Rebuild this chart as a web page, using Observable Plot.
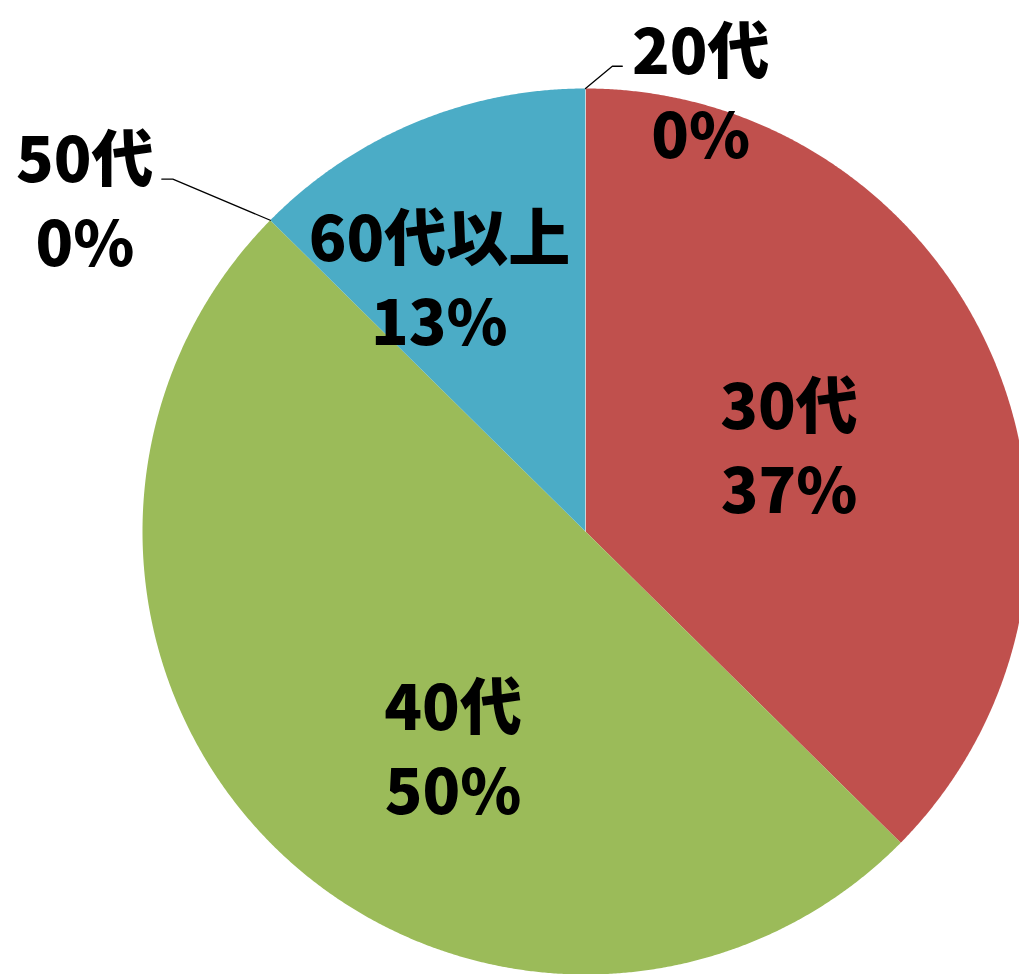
<!DOCTYPE html>
<html>
<head>
<meta charset="utf-8">
<script src="https://cdn.jsdelivr.net/npm/d3@7"></script>
<script src="https://cdn.jsdelivr.net/npm/@observablehq/plot@0.6"></script>
<style>
html, body { margin: 0; padding: 0; background: #fff; overflow: hidden; }
#chart svg { display: block; }
</style>
</head>
<body>
<div id="chart"></div>
<script>
// ---- data ----
const categories = ["20代", "30代", "40代", "50代", "60代以上"];
const shares = [0, 37.4, 50.0, 0, 12.6];          // percent
const colors = ["#4F81BD", "#C0504D", "#9BBB59", "#8064A2", "#4BACC6"];

// ---- layout (label placement, relative to slice angle; radius units) ----
const labelAngleNudge = [14.6, -0.6, -12.9, -10.9, -7.1];
const labelRadius     = [1.032, 0.50, 0.568, 1.359, 0.664];
const leaderElbow     = [{a: 3.3, r: 1.052, dx: 0.0225}, null, null, {a: 310.5, r: 1.225, dx: -0.025}, null];

const W = 1019, H = 974, CX = 585, CY = 531, R = 443;

const arcs = d3.pie().sort(null).value(d => d)(shares);
const deg = rad => rad * 180 / Math.PI;
const polar = (aDeg, r) => {
  const a = aDeg * Math.PI / 180;
  return {x: Math.sin(a) * r, y: Math.cos(a) * r};
};

// slice polygons
const slicePts = [];
arcs.forEach((a, i) => {
  if (a.endAngle - a.startAngle <= 0) return;
  const s = deg(a.startAngle), e = deg(a.endAngle);
  slicePts.push({k: categories[i], x: 0, y: 0});
  const n = Math.max(2, Math.ceil((e - s) / 0.25));
  for (let j = 0; j <= n; j++) {
    const p = polar(s + (e - s) * j / n, 1);
    slicePts.push({k: categories[i], x: p.x, y: p.y});
  }
});

// labels
const labels = arcs.map((a, i) => {
  const mid = deg((a.startAngle + a.endAngle) / 2);
  const p = polar(mid + labelAngleNudge[i], labelRadius[i]);
  return {x: p.x, y: p.y, text: categories[i] + "\n" + Math.round(shares[i]) + "%"};
});

// leader lines for outside labels
const leaders = [];
arcs.forEach((a, i) => {
  const el = leaderElbow[i];
  if (!el) return;
  const p0 = polar(deg(a.startAngle), 1);
  const p1 = polar(el.a, el.r);
  leaders.push({k: categories[i], x: p0.x, y: p0.y});
  leaders.push({k: categories[i], x: p1.x, y: p1.y});
  leaders.push({k: categories[i], x: p1.x + el.dx, y: p1.y});
});

// zero-width slice edge at top
const zeroEdge = [{x: 0, y: 0}, polar(deg(arcs[0].startAngle), 1)];

const chart = Plot.plot({
  width: W,
  height: H,
  margin: 0,
  x: {domain: [-CX / R, (W - CX) / R], axis: null},
  y: {domain: [-(H - CY) / R, CY / R], axis: null},
  color: {domain: categories, range: colors},
  marks: [
    Plot.line(slicePts, {x: "x", y: "y", z: "k", fill: "k", stroke: null, curve: "linear-closed", clip: true}),
    Plot.line(zeroEdge, {x: "x", y: "y", stroke: "#ffffff", strokeWidth: 1, strokeOpacity: 0.5}),
    Plot.line(leaders, {x: "x", y: "y", z: "k", stroke: "#000", strokeWidth: 1.3}),
    Plot.text(labels, {
      x: "x", y: "y", text: "text",
      fontSize: 62, fontWeight: 900, fill: "#000",
      lineHeight: 1.35,
      fontFamily: "'Noto Sans CJK JP', 'Noto Sans', sans-serif"
    })
  ]
});
document.getElementById("chart").appendChild(chart);
</script>
</body>
</html>
